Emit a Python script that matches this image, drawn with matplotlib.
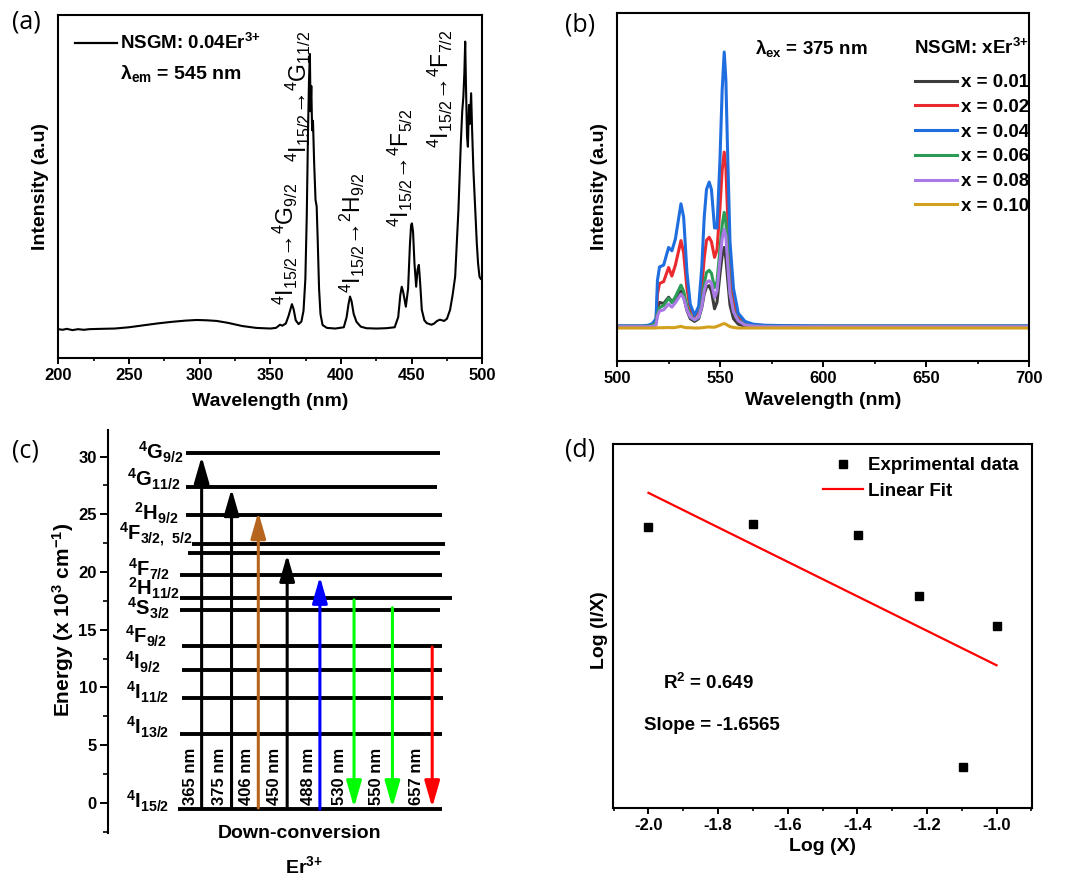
import numpy as np
import matplotlib
matplotlib.use("Agg")
import matplotlib.pyplot as plt
from matplotlib.lines import Line2D
from matplotlib.ticker import MultipleLocator, FormatStrFormatter

plt.rcParams.update({
    "font.family": ["Liberation Sans", "DejaVu Sans"],
    "font.weight": "bold",
    "mathtext.default": "regular",
    "axes.unicode_minus": False,
    "axes.linewidth": 1.5,
    "xtick.direction": "out",
    "ytick.direction": "out",
})

# ---------------- (a) excitation spectrum, NSGM:0.04Er3+, lambda_em = 545 nm
exc_wl = [200, 203, 206, 210, 214, 218, 222, 230, 240, 250, 260, 270, 280, 290,
          298, 305, 312, 320, 330, 340, 350, 354, 356.9, 358.5, 361, 363, 365.3,
          366.5, 368, 370, 372, 373.5, 374.8, 375.8, 376.7, 377.4, 378.0, 378.5,
          379.0, 379.6, 380.2, 381.0, 382.0, 382.8, 383.5, 384.5, 385.5, 387, 390,
          396, 402, 404, 405.3, 406.4, 407.5, 409, 411, 414, 418, 425, 432, 438,
          440.5, 442, 443, 444, 445.9, 447.5, 448.8, 449.6, 450.2, 451, 452, 453.2,
          454.2, 455.1, 456, 457.2, 459, 460.7, 464, 466, 468, 470, 473, 475, 477.2,
          479, 480.8, 483.1, 484.8, 485.8, 486.6, 487.3, 487.9, 488.5, 489.2, 489.8,
          490.6, 491.2, 492.1, 492.8, 493.7, 495, 496.1, 497, 498, 499, 500]
exc_int = [0.092, 0.090, 0.093, 0.089, 0.092, 0.090, 0.092, 0.093, 0.094, 0.098,
           0.104, 0.110, 0.115, 0.119, 0.121, 0.120, 0.118, 0.112, 0.102, 0.096,
           0.094, 0.096, 0.106, 0.103, 0.110, 0.135, 0.171, 0.155, 0.120, 0.108,
           0.116, 0.150, 0.250, 0.450, 0.720, 0.880, 0.961, 0.780, 0.860, 0.720,
           0.750, 0.620, 0.500, 0.480, 0.380, 0.220, 0.140, 0.105, 0.096, 0.094,
           0.098, 0.130, 0.170, 0.195, 0.180, 0.140, 0.115, 0.100, 0.095, 0.094,
           0.095, 0.098, 0.130, 0.200, 0.226, 0.210, 0.163, 0.220, 0.360, 0.420,
           0.426, 0.400, 0.300, 0.226, 0.280, 0.295, 0.240, 0.153, 0.120, 0.111,
           0.106, 0.110, 0.118, 0.122, 0.118, 0.125, 0.153, 0.200, 0.258, 0.468,
           0.680, 0.780, 0.826, 0.900, 1.000, 0.850, 0.700, 0.668, 0.800, 0.740,
           0.837, 0.720, 0.595, 0.470, 0.364, 0.300, 0.258, 0.250, 0.255]

# ---------------- (b) emission spectra, lambda_ex = 375 nm
em_wl = [500, 512, 515, 517, 518.8, 519.5, 520.5, 522.5, 524.9, 526.5, 528.2,
         530.9, 532.2, 533.8, 535.4, 537.5, 539.5, 541, 542.2, 543.3, 544.6,
         545.7, 547.2, 548.4, 549.8, 550.9, 551.9, 552.7, 553.5, 554.7, 556.4,
         558.7, 562, 566, 572, 580, 600, 650, 700]
em_x001 = [0.002, 0.002, 0.003, 0.006, 0.020, 0.070, 0.089, 0.085, 0.108, 0.092,
           0.100, 0.131, 0.110, 0.060, 0.030, 0.020, 0.030, 0.070, 0.120, 0.145,
           0.150, 0.130, 0.066, 0.090, 0.190, 0.260, 0.289, 0.250, 0.180, 0.080,
           0.030, 0.010, 0.003, 0.002, 0.002, 0.002, 0.002, 0.002, 0.002]
em_x002 = [0.002, 0.002, 0.004, 0.008, 0.020, 0.120, 0.158, 0.165, 0.216, 0.185,
           0.225, 0.314, 0.270, 0.140, 0.065, 0.038, 0.060, 0.140, 0.250, 0.315,
           0.326, 0.310, 0.253, 0.280, 0.430, 0.570, 0.636, 0.580, 0.420, 0.200,
           0.090, 0.035, 0.012, 0.005, 0.002, 0.002, 0.002, 0.002, 0.002]
em_x004 = [0.004, 0.004, 0.006, 0.012, 0.030, 0.170, 0.218, 0.225, 0.289, 0.277,
           0.320, 0.448, 0.400, 0.200, 0.083, 0.042, 0.075, 0.216, 0.400, 0.500,
           0.527, 0.500, 0.360, 0.360, 0.600, 0.861, 1.000, 0.900, 0.650, 0.310,
           0.140, 0.050, 0.020, 0.010, 0.006, 0.005, 0.004, 0.004, 0.004]
em_x006 = [0.002, 0.002, 0.003, 0.006, 0.015, 0.050, 0.070, 0.078, 0.104, 0.088,
           0.110, 0.152, 0.130, 0.075, 0.040, 0.025, 0.035, 0.085, 0.155, 0.198,
           0.206, 0.195, 0.143, 0.165, 0.280, 0.370, 0.417, 0.380, 0.280, 0.130,
           0.060, 0.025, 0.008, 0.003, 0.002, 0.002, 0.002, 0.002, 0.002]
em_x008 = [0.001, 0.001, 0.001, 0.002, 0.006, 0.040, 0.058, 0.062, 0.083, 0.072,
           0.088, 0.119, 0.105, 0.062, 0.036, 0.026, 0.035, 0.075, 0.130, 0.162,
           0.168, 0.160, 0.107, 0.130, 0.240, 0.320, 0.355, 0.330, 0.240, 0.120,
           0.055, 0.022, 0.007, 0.003, 0.001, 0.001, 0.001, 0.001, 0.001]
em_x010 = [-0.004, -0.004, -0.004, -0.004, -0.004, -0.003, -0.003, -0.003, -0.002,
           -0.003, -0.002, 0.002, -0.001, -0.003, -0.003, -0.004, -0.004, -0.003,
           -0.002, -0.001, 0.000, -0.001, -0.001, 0.002, 0.006, 0.010, 0.012, 0.010,
           0.006, 0.001, -0.002, -0.004, -0.004, -0.004, -0.004, -0.004, -0.004,
           -0.004, -0.004]
em_series = [em_x001, em_x002, em_x004, em_x006, em_x008, em_x010]
em_labels = ["x = 0.01", "x = 0.02", "x = 0.04", "x = 0.06", "x = 0.08", "x = 0.10"]
em_colors = ["#3c3c3c", "#ea2a2e", "#1f6ee0", "#2b9c55", "#a97ae6", "#d2a01c"]

# ---------------- (c) Er3+ energy levels (x 10^3 cm^-1)
level_labels = [r"$^4$G$_{9/2}$", r"$^4$G$_{11/2}$", r"$^2$H$_{9/2}$",
                r"$^4$F$_{3/2,\ 5/2}$", "", r"$^4$F$_{7/2}$", r"$^2$H$_{11/2}$",
                r"$^4$S$_{3/2}$", r"$^4$F$_{9/2}$", r"$^4$I$_{9/2}$",
                r"$^4$I$_{11/2}$", r"$^4$I$_{13/2}$", r"$^4$I$_{15/2}$"]
level_energy = [30.3, 27.4, 24.95, 22.45, 21.65, 19.73, 17.75, 16.7, 13.6, 11.5,
                9.1, 5.95, -0.55]
trans_nm = [365, 375, 406, 450, 488, 530, 550, 657]
trans_from = [-0.45, -0.45, -0.45, -0.45, -0.55, 17.58, 16.9, 13.5]
trans_to = [30.0, 27.2, 25.2, 21.5, 19.6, -0.4, -0.4, -0.4]

# ---------------- (d) log(I/X) vs log(X)
concentration = [0.01, 0.02, 0.04, 0.06, 0.08, 0.10]
log_ix = [5.800, 5.829, 5.726, 5.143, 3.500, 4.849]
fit_slope = -1.6565
r_squared = 0.649

# ----- layout helpers (figure pixels -> figure fraction)
W, H = 1068, 876


def rect(l, t, r, b):
    return [l / W, 1 - b / H, (r - l) / W, (b - t) / H]


fig = plt.figure(figsize=(W / 100, H / 100), dpi=100)
ax_a = fig.add_axes(rect(58.3, 15, 482.3, 358.3))
ax_b = fig.add_axes(rect(617.3, 13, 1029.3, 361))
ax_c = fig.add_axes(rect(108, 430, 460, 833.3))
ax_d = fig.add_axes(rect(613.3, 444, 1031.7, 808.3))

BIG = 14
MID = 13.5
TICK = 12


def spectrum_axes(ax):
    ax.set_yticks([])
    ax.tick_params(axis="x", which="major", length=4, width=1.4, labelsize=TICK, pad=3)
    ax.tick_params(axis="x", which="minor", length=2.5, width=1.2)


# ---------------- panel (a)
ax_a.plot(exc_wl, exc_int, color="black", lw=1.5)
ax_a.set_xlim(200, 500)
ax_a.set_ylim(0, 1.084)
ax_a.xaxis.set_major_locator(MultipleLocator(50))
ax_a.xaxis.set_minor_locator(MultipleLocator(25))
spectrum_axes(ax_a)
ax_a.set_xlabel("Wavelength (nm)", fontsize=BIG, fontweight="bold")
ax_a.set_ylabel("Intensity (a.u)", fontsize=BIG, fontweight="bold")
ax_a.xaxis.set_label_coords(0.5, -0.101)
ax_a.yaxis.set_label_coords(-0.022, 0.5)
ax_a.legend([Line2D([], [], color="black", lw=1.6)], [r"NSGM: 0.04Er$^{3{+}}$"],
            loc="center left", bbox_to_anchor=(0.039, 0.918), frameon=False,
            handlelength=2.24, handletextpad=0.16, borderpad=0, borderaxespad=0,
            prop={"weight": "bold", "size": MID})
ax_a.text(0.1455, 0.831, r"λ$_{em}$ = 545 nm", transform=ax_a.transAxes,
          fontsize=14, fontweight="bold", ha="left", va="center")
transitions_a = [
    (360.4, 0.168, r"$^4$I$_{15/2}$→$^4$G$_{9/2}$"),
    (369.6, 0.620, r"$^4$I$_{15/2}$→$^4$G$_{11/2}$"),
    (407.8, 0.206, r"$^4$I$_{15/2}$→$^2$H$_{9/2}$"),
    (441.8, 0.415, r"$^4$I$_{15/2}$→$^4$F$_{5/2}$"),
    (470.1, 0.664, r"$^4$I$_{15/2}$→$^4$F$_{7/2}$"),
]
for x, y, s in transitions_a:
    ax_a.text(x, y, s, rotation=90, ha="center", va="bottom", fontsize=16.5,
              fontweight="normal")

# ---------------- panel (b)
for vals, lab, col in zip(em_series, em_labels, em_colors):
    ax_b.plot(em_wl, vals, color=col, lw=2.2, label=lab)
ax_b.set_xlim(500, 700)
ax_b.set_ylim(-0.124, 1.142)
ax_b.xaxis.set_major_locator(MultipleLocator(50))
ax_b.xaxis.set_minor_locator(MultipleLocator(25))
spectrum_axes(ax_b)
ax_b.set_xlabel("Wavelength (nm)", fontsize=BIG, fontweight="bold")
ax_b.set_ylabel("Intensity (a.u)", fontsize=BIG, fontweight="bold")
ax_b.xaxis.set_label_coords(0.5, -0.089)
ax_b.yaxis.set_label_coords(-0.022, 0.5)
ax_b.legend(loc="center left", bbox_to_anchor=(0.7226, 0.622), frameon=False,
            handlelength=2.24, handletextpad=0.2, labelspacing=0.405,
            borderpad=0, borderaxespad=0, prop={"weight": "bold", "size": MID})
ax_b.text(0.72, 0.899, r"NSGM: xEr$^{3{+}}$", transform=ax_b.transAxes,
          fontsize=MID, fontweight="bold", ha="left", va="center")
ax_b.text(0.334, 0.899, r"λ$_{ex}$ = 375 nm", transform=ax_b.transAxes,
          fontsize=MID, fontweight="bold", ha="left", va="center")

# ---------------- panel (c) energy level diagram
line_x0 = [0.221, 0.221, 0.221, 0.238, 0.228, 0.204, 0.204, 0.204, 0.209, 0.209,
           0.209, 0.204, 0.200]
line_x1 = [0.943, 0.934, 0.948, 0.957, 0.943, 0.948, 0.977, 0.943, 0.948, 0.948,
           0.953, 0.948, 0.948]
label_right = [0.213, 0.205, 0.199, 0.239, 0.0, 0.176, 0.205, 0.176, 0.168, 0.148,
               0.173, 0.173, 0.173]
label_lift = [0.07, 0.62, 0.10, 0.77, 0.0, 0.47, 0.85, 0.15, 0.80, 0.70, 0.50,
              0.55, 0.69]
arrow_x = [0.266, 0.351, 0.427, 0.509, 0.602, 0.699, 0.808, 0.921]
arrow_lab_x = [0.233, 0.318, 0.394, 0.474, 0.569, 0.659, 0.763, 0.877]
arrow_colors = ["black", "black", "#b5651d", "black", "#0000ff", "#00ff00",
                "#00ff00", "#ff0000"]

ax_c.set_xlim(0, 1)
ax_c.set_ylim(-2.64, 32.3)
for side in ("top", "right", "bottom"):
    ax_c.spines[side].set_visible(False)
ax_c.set_xticks([])
ax_c.yaxis.set_major_locator(MultipleLocator(5))
ax_c.yaxis.set_minor_locator(MultipleLocator(2.5))
ax_c.tick_params(axis="y", which="major", length=6, width=1.4, labelsize=TICK, pad=2)
ax_c.tick_params(axis="y", which="minor", length=3.5, width=1.2)
ax_c.set_ylabel(r"Energy (x 10$^3$ cm$^{-1}$)", fontsize=15, fontweight="bold")
ax_c.yaxis.set_label_coords(-0.091, 0.529)

for e, x0, x1, lab, xr, lift in zip(level_energy, line_x0, line_x1, level_labels,
                                   label_right, label_lift):
    ax_c.plot([x0, x1], [e, e], color="black", lw=2.8, solid_capstyle="butt")
    if lab:
        ax_c.text(xr, e + lift, lab, ha="right", va="center", fontsize=14.5,
                  fontweight="bold")

for nm, e0, e1, x, lx, col in zip(trans_nm, trans_from, trans_to, arrow_x,
                                  arrow_lab_x, arrow_colors):
    ax_c.annotate("", xy=(x, e1), xytext=(x, e0),
                  arrowprops=dict(arrowstyle="-|>,head_length=0.8,head_width=0.23",
                                  lw=2.2, color=col, shrinkA=0, shrinkB=0,
                                  mutation_scale=20))
    ax_c.text(lx, -0.15, f"{nm} nm", rotation=90, ha="center", va="bottom",
              fontsize=12, fontweight="bold")

ax_c.text(0.545, -0.001, "Down-conversion", transform=ax_c.transAxes,
          ha="center", va="center", fontsize=BIG, fontweight="bold")
ax_c.text(0.557, -0.081, r"Er$^{3{+}}$", transform=ax_c.transAxes,
          ha="center", va="center", fontsize=BIG, fontweight="bold")

# ---------------- panel (d)
log_x = np.log10(concentration)
fit_intercept = np.mean(log_ix) - fit_slope * np.mean(log_x)
fit_x = np.array([log_x.min(), log_x.max()])
ax_d.plot(log_x, log_ix, "s", color="black", ms=6, label="Exprimental data")
ax_d.plot(fit_x, fit_intercept + fit_slope * fit_x, color="red", lw=1.6,
          label="Linear Fit")
ax_d.set_xlim(-2.101, -0.899)
ax_d.set_ylim(3.10, 6.60)
ax_d.xaxis.set_major_locator(MultipleLocator(0.2))
ax_d.xaxis.set_minor_locator(MultipleLocator(0.1))
ax_d.xaxis.set_major_formatter(FormatStrFormatter("%.1f"))
ax_d.set_yticks([])
ax_d.tick_params(axis="x", which="major", length=4, width=1.4, labelsize=TICK, pad=3)
ax_d.tick_params(axis="x", which="minor", length=2.5, width=1.2)
ax_d.set_xlabel("Log (X)", fontsize=BIG, fontweight="bold")
ax_d.set_ylabel("Log (I/X)", fontsize=BIG, fontweight="bold")
ax_d.xaxis.set_label_coords(0.5, -0.0815)
ax_d.yaxis.set_label_coords(-0.0127, 0.489)
ax_d.legend(loc="center left", bbox_to_anchor=(0.501, 0.905), frameon=False,
            numpoints=1, handlelength=2.15, handletextpad=0.25, labelspacing=0.46,
            borderpad=0, borderaxespad=0, prop={"weight": "bold", "size": MID})
ax_d.text(0.119, 0.344, f"R$^2$ = {r_squared:.3f}", transform=ax_d.transAxes,
          ha="left", va="center", fontsize=MID, fontweight="bold")
ax_d.text(0.073, 0.226, f"Slope = {fit_slope:.4f}", transform=ax_d.transAxes,
          ha="left", va="center", fontsize=MID, fontweight="bold")

# ---------------- panel letters
for s, px, py in [("(a)", 12, 22), ("(b)", 565, 25), ("(c)", 12, 451), ("(d)", 565, 450)]:
    fig.text(px / W, 1 - py / H, s, ha="left", va="center", fontsize=18,
             fontweight="normal", family="Open Sans")

fig.savefig("out.png", dpi=100)
